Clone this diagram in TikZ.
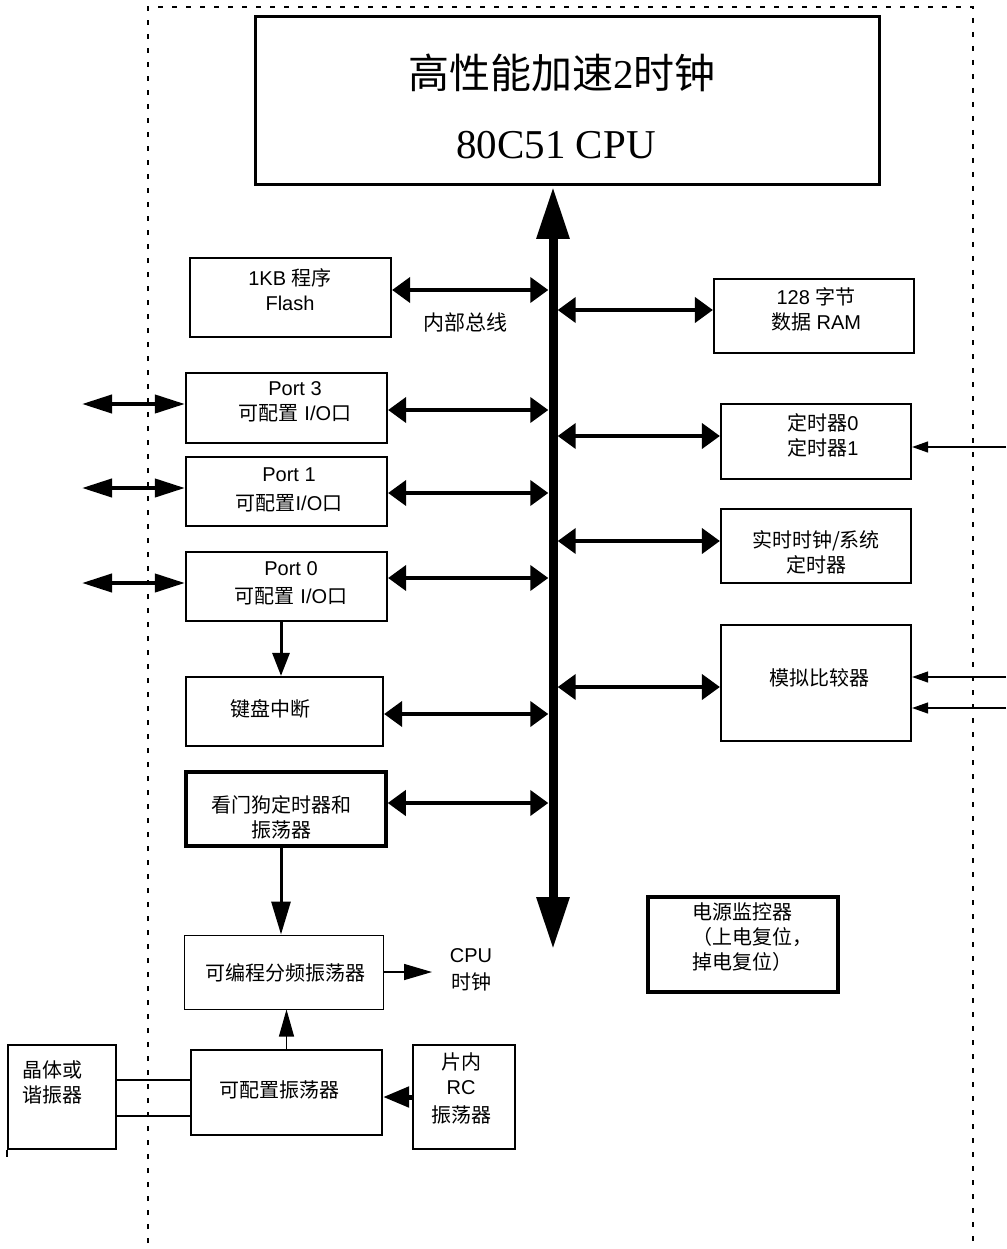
\documentclass[tikz,border=0pt]{standalone}
\usepackage{fontspec}
\setmainfont{Liberation Sans}
\newfontfamily\cjk{Noto Sans CJK SC}
\newfontfamily\serifnum{Liberation Serif}
\newcommand\zh[1]{{\cjk #1}}
\usetikzlibrary{arrows.meta}
\begin{document}
\begin{tikzpicture}[x=1pt,y=-1pt,
  box/.style={draw, line width=2.2pt, inner sep=0pt},
  lbl/.style={font=\fontsize{20}{25}\selectfont, align=center, inner sep=0pt},
  darr/.style={line width=4pt, {Triangle[length=18pt,width=25pt]}-{Triangle[length=18pt,width=25pt]}},
  larr/.style={line width=4pt, {Triangle[length=30pt,width=18pt]}-{Triangle[length=30pt,width=18pt]}},
  busline/.style={line width=9pt, {Triangle[length=52pt,width=31pt]}-{Triangle[length=52pt,width=31pt]}},
  inarr/.style={line width=1.2pt, -{Triangle[length=16pt,width=11pt]}},
  outline/.style={line width=1.2pt, dash pattern=on 5pt off 9pt}
]
\useasboundingbox (0,0) rectangle (1006,1249);

% outer dashed frame
\draw[outline] (148,1243) -- (148,7) -- (973,7) -- (973,1243);

% CPU
\node[box, line width=3pt, minimum width=624pt, minimum height=168pt] (cpu) at (567,101) {};
\node[inner sep=0pt, font=\fontsize{41}{45}\selectfont] (cpuT1) at (562,73) {\zh{高性能加速}{\serifnum 2}\zh{时钟}};
\node[inner sep=0pt, font=\serifnum\fontsize{41}{45}\selectfont] (cpuT2) at (556,145) {80C51 CPU};

% bus
\node[inner sep=0pt, minimum width=9pt, minimum height=762pt] (bus) at (553,568) {};
\draw[busline] (bus.north) -- (bus.south);

% left boxes
\node[box, minimum width=201pt, minimum height=79pt] (flash) at (290.5,297.5) {};
\node[lbl] (flashT) at (290,289.5) {1KB \zh{程序}\\Flash};
\node[lbl, font=\fontsize{21}{25}\selectfont] (bustxt) at (465,322) {\zh{内部总线}};

\node[box, minimum width=201pt, minimum height=70pt] (port3) at (286.5,408) {};
\node[lbl] (p3T) at (295,402) {Port 3\\\zh{可配置} I/O\zh{口}};
\node[box, minimum width=201pt, minimum height=69pt] (port1) at (286.5,491.5) {};
\node[lbl] (p1T) at (289,489.5) {Port 1\\[4pt]\zh{可配置}I/O\zh{口}};
\node[box, minimum width=201pt, minimum height=69pt] (port0) at (286.5,586.5) {};
\node[lbl] (p0T) at (291,583) {Port 0\\[3pt]\zh{可配置} I/O\zh{口}};

\node[box, minimum width=197pt, minimum height=69pt] (kbd) at (284.5,711.5) {};
\node[lbl] (kbdT) at (270,709) {\zh{键盘中断}};
\node[box, line width=3.5pt, minimum width=200pt, minimum height=74pt] (wdt) at (286,809) {};
\node[lbl] (wdtT) at (281,817.5) {\zh{看门狗定时器和}\\\zh{振荡器}};

\node[box, line width=1pt, minimum width=199pt, minimum height=74pt] (div) at (283.5,972) {};
\node[lbl] (divT) at (285,973) {\zh{可编程分频振荡器}};
\node[lbl] (cpuclk) at (471,969.5) {CPU\\[2pt]\zh{时钟}};

\node[box, minimum width=191pt, minimum height=85pt] (cosc) at (286.5,1092.5) {};
\node[lbl] (coscT) at (279,1090) {\zh{可配置振荡器}};
\node[box, minimum width=102pt, minimum height=104pt] (rc) at (464,1097) {};
\node[lbl] (rcT) at (461,1088) {\zh{片内}\\RC\\[3pt]\zh{振荡器}};
\node[box, minimum width=108pt, minimum height=104pt] (xtal) at (62,1097) {};
\node[lbl] (xtalT) at (52,1082) {\zh{晶体或}\\\zh{谐振器}};
\draw[line width=2.2pt] (xtal.south west) -- ++(0,7);

% right boxes
\node[box, minimum width=200pt, minimum height=74pt] (ram) at (814,316) {};
\node[lbl] (ramT) at (816,309) {128 \zh{字节}\\\zh{数据} RAM};
\node[box, minimum width=190pt, minimum height=75pt] (timer) at (816,441.5) {};
\node[lbl] (timerT) at (823,435) {\zh{定时器}0\\\zh{定时器}1};
\node[box, minimum width=190pt, minimum height=74pt] (rtc) at (816,546) {};
\node[lbl] (rtcT) at (816,552) {\zh{实时时钟/系统}\\\zh{定时器}};
\node[box, minimum width=190pt, minimum height=116pt] (cmp) at (816,683) {};
\node[lbl] (cmpT) at (819,678) {\zh{模拟比较器}};
\node[box, line width=3.5pt, minimum width=190pt, minimum height=95pt] (pwr) at (743,944.5) {};
\node[lbl, align=left, anchor=west] (pwrT) at (692,937.5) {\zh{电源监控器}\\\zh{（上电复位，}\\\zh{掉电复位）}};

% bus connectors (left)
\coordinate (cFl) at ([yshift=7.5pt]flash.east);
\draw[darr] (cFl) -- (cFl -| bus.west);
\coordinate (cP3) at ([yshift=-2pt]port3.east);
\draw[darr] (cP3) -- (cP3 -| bus.west);
\coordinate (cP1) at ([yshift=-1.5pt]port1.east);
\draw[darr] (cP1) -- (cP1 -| bus.west);
\coordinate (cP0) at ([yshift=8.5pt]port0.east);
\draw[darr] (cP0) -- (cP0 -| bus.west);
\coordinate (cKb) at ([yshift=-2.5pt]kbd.east);
\draw[darr] (cKb) -- (cKb -| bus.west);
\coordinate (cWd) at ([yshift=6pt]wdt.east);
\draw[darr] (cWd) -- (cWd -| bus.west);

% bus connectors (right)
\coordinate (cRam) at ([yshift=6pt]ram.west);
\draw[darr] (cRam -| bus.east) -- (cRam);
\coordinate (cTm) at ([yshift=5.5pt]timer.west);
\draw[darr] (cTm -| bus.east) -- (cTm);
\coordinate (cRt) at ([yshift=5pt]rtc.west);
\draw[darr] (cRt -| bus.east) -- (cRt);
\coordinate (cCm) at ([yshift=-4pt]cmp.west);
\draw[darr] (cCm -| bus.east) -- (cCm);

% external port arrows
\coordinate (p3x) at (82,404);
\draw[larr] (p3x) -- (p3x -| port3.west);
\coordinate (p1x) at (82,488);
\draw[larr] (p1x) -- (p1x -| port1.west);
\coordinate (p0x) at (82,583);
\draw[larr] (p0x) -- (p0x -| port0.west);

% external inputs on the right
\coordinate (tmIn) at (1006,447);
\draw[inarr] (tmIn) -- (tmIn -| timer.east);
\coordinate (cmIn1) at (1006,677);
\draw[inarr] (cmIn1) -- (cmIn1 -| cmp.east);
\coordinate (cmIn2) at (1006,708);
\draw[inarr] (cmIn2) -- (cmIn2 -| cmp.east);

% clock path
\coordinate (p0d) at ([xshift=-5.5pt]port0.south);
\draw[line width=3pt, -{Triangle[length=23pt,width=17pt]}] (p0d) -- (p0d |- kbd.north);
\coordinate (wdd) at ([xshift=-5pt]wdt.south);
\draw[line width=3pt, -{Triangle[length=33pt,width=19pt]}] (wdd) -- (wdd |- div.north);
\coordinate (ckx) at (432,0);
\draw[line width=1.5pt, -{Triangle[length=28pt,width=16pt]}] (div.east) -- (div.east -| ckx);
\coordinate (cou) at (cosc.north);
\draw[line width=1.2pt, -{Triangle[length=27pt,width=15pt]}] (cou) -- (cou |- div.south);
\coordinate (rcl) at (rc.west);
\draw[line width=5pt, -{Triangle[length=26pt,width=20pt]}] (rcl) -- (rcl -| cosc.east);
\coordinate (xl1) at ([yshift=12.5pt]cosc.west);
\draw[line width=1.2pt] (xl1 -| xtal.east) -- (xl1);
\coordinate (xl2) at ([yshift=-23.5pt]cosc.west);
\draw[line width=1.2pt] (xl2 -| xtal.east) -- (xl2);
\end{tikzpicture}
\end{document}
